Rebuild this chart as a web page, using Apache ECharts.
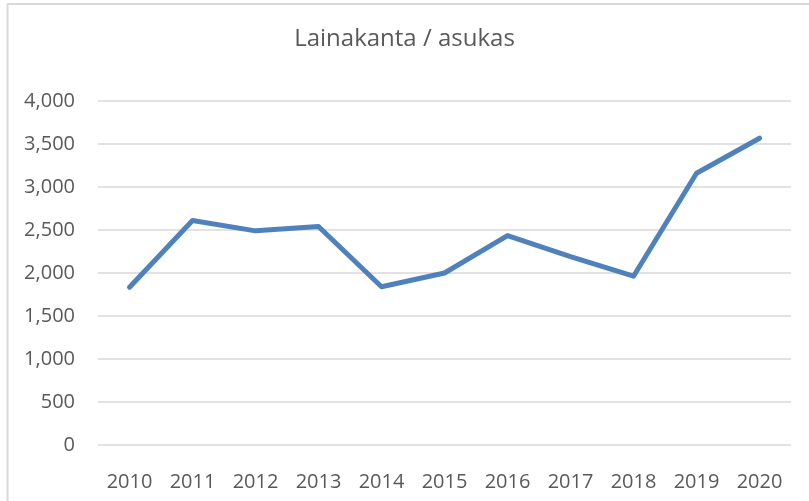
<!DOCTYPE html>
<html>
<head>
<meta charset="utf-8">
<script src="https://cdn.jsdelivr.net/npm/echarts@6/dist/echarts.min.js"></script>
<style>
  html, body { margin: 0; padding: 0; background: #fff; }
  #chart { width: 809px; height: 501px; }
</style>
</head>
<body>
<div id="chart"></div>
<script>
  // data
  const years = ['2010', '2011', '2012', '2013', '2014', '2015', '2016', '2017', '2018', '2019', '2020']
  const lainakanta = [1835, 2610, 2490, 2540, 1840, 2000, 2435, 2190, 1963, 3160, 3567]

  const textColor = '#595959'
  const font = '"Open Sans", "Noto Sans", sans-serif'

  const chart = echarts.init(document.getElementById('chart'))

  const option = {
    backgroundColor: '#fff',
    animation: false,
    title: {
      text: 'Lainakanta / asukas',
      left: 'center',
      top: 22,
      textStyle: { color: textColor, fontSize: 24, fontWeight: 'normal', fontFamily: font }
    },
    grid: { left: 98, right: 18, top: 101, bottom: 56 },
    xAxis: {
      type: 'category',
      data: years,
      boundaryGap: true,
      axisLine: { show: false },
      axisTick: { show: false },
      axisLabel: { color: textColor, fontSize: 20, fontFamily: font, margin: 27 }
    },
    yAxis: {
      type: 'value',
      min: 0,
      max: 4000,
      interval: 500,
      axisLine: { show: false },
      axisTick: { show: false },
      splitLine: { lineStyle: { color: '#d9d9d9', width: 1.5 } },
      axisLabel: {
        color: textColor, fontSize: 20, fontFamily: font, margin: 23,
        formatter: v => v.toLocaleString('en-US')
      }
    },
    series: [
      {
        name: 'Lainakanta / asukas',
        type: 'line',
        data: lainakanta,
        showSymbol: false,
        lineStyle: { color: '#4f81bd', width: 5, cap: 'round', join: 'round' }
      }
    ],
    graphic: [
      { type: 'line', shape: { x1: 7.5, y1: 4, x2: 7.5, y2: 501 }, style: { stroke: '#d9d9d9', lineWidth: 2 } },
      { type: 'line', shape: { x1: 7, y1: 4, x2: 809, y2: 4 }, style: { stroke: '#d9d9d9', lineWidth: 2 } }
    ]
  }

  chart.setOption(option)
</script>
</body>
</html>
